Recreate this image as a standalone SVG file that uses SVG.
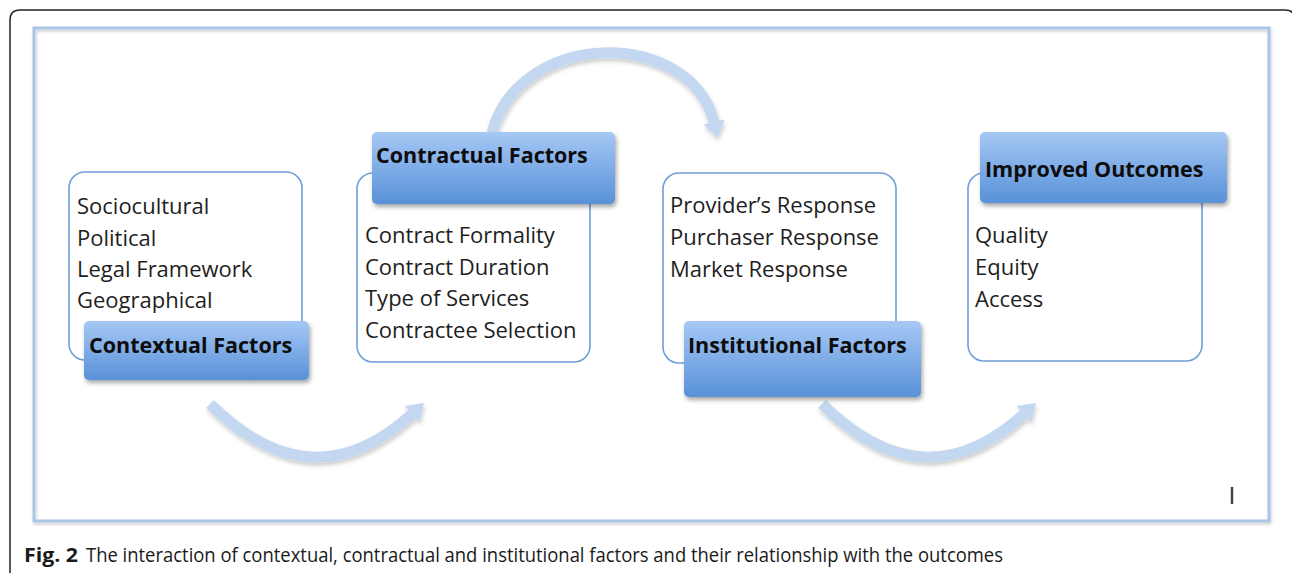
<svg xmlns="http://www.w3.org/2000/svg" width="1292" height="573" viewBox="0 0 1292 573">
<style>
.item{font-family:"Open Sans","DejaVu Sans",sans-serif;font-size:22px;fill:#1e1e1e}
.head{font-family:"Open Sans","DejaVu Sans",sans-serif;font-size:21.5px;font-weight:bold;fill:#0d0d0d}
.box{fill:#ffffff;stroke:#6f9fd6;stroke-width:1.6}
.hdr{fill:url(#hg);filter:url(#sh)}
.shaft{fill:none;stroke:#c4d7f1;stroke-width:11}
.head-tri{fill:#c4d7f1}
.cap{font-family:"Open Sans","Liberation Sans",sans-serif;font-size:20px;fill:#1a1a1a}
</style>
<defs>
<linearGradient id="hg" x1="0" y1="0" x2="0" y2="1">
<stop offset="0" stop-color="#a6c8f5"/>
<stop offset="1" stop-color="#5891d8"/>
</linearGradient>
<filter id="sh" x="-10%" y="-10%" width="125%" height="135%">
<feDropShadow dx="1.5" dy="3" stdDeviation="2" flood-color="#000" flood-opacity="0.35"/>
</filter>
<filter id="ash" x="-10%" y="-10%" width="125%" height="135%">
<feDropShadow dx="1" dy="3" stdDeviation="2" flood-color="#000" flood-opacity="0.2"/>
</filter>
<filter id="fsh" x="-2%" y="-2%" width="104%" height="106%">
<feDropShadow dx="1" dy="2" stdDeviation="1.5" flood-color="#000" flood-opacity="0.2"/>
</filter>
</defs>

<path d="M 10 573 V 20 Q 10 10 20 10 H 1285 Q 1295 10 1295 20 V 573" fill="none" stroke="#222" stroke-width="1.5"/>
<rect x="34" y="28" width="1235" height="493" fill="none" stroke="#a9c5e8" stroke-width="3" filter="url(#fsh)"/>

<g id="connectors">
<g filter="url(#ash)">
<path class="shaft" d="M 210 404 Q 312 505 412 414"/>
<polygon class="head-tri" points="424,403 419.4,422.1 404.6,405.9"/>
</g>
<g filter="url(#ash)">
<path class="shaft" d="M 492 133 C 520 28 690 28 714 122"/>
<polygon class="head-tri" points="717.7,137.6 724.7,119.5 703.3,124.5"/>
</g>
<g filter="url(#ash)">
<path class="shaft" d="M 822 404 Q 924 505 1024 414"/>
<polygon class="head-tri" points="1036,403 1031.4,422.1 1016.6,405.9"/>
</g>
</g>

<g id="contextual">
<rect class="box" x="69" y="172" width="233" height="188" rx="16"/>
<text class="item" x="77" y="214">Sociocultural</text>
<text class="item" x="77" y="246">Political</text>
<text class="item" x="77" y="277">Legal Framework</text>
<text class="item" x="77" y="308">Geographical</text>
<rect class="hdr" x="84" y="321" width="225" height="59" rx="5"/>
<text class="head" x="89" y="353">Contextual Factors</text>
</g>

<g id="contractual">
<rect class="box" x="357" y="173" width="233" height="189" rx="16"/>
<rect class="hdr" x="372" y="132" width="243" height="72" rx="5"/>
<text class="head" x="376" y="163">Contractual Factors</text>
<text class="item" x="365" y="243">Contract Formality</text>
<text class="item" x="365" y="275">Contract Duration</text>
<text class="item" x="365" y="306">Type of Services</text>
<text class="item" x="365" y="338">Contractee Selection</text>
</g>

<g id="institutional">
<rect class="box" x="663" y="173" width="233" height="190" rx="16"/>
<text class="item" x="670" y="213">Provider’s Response</text>
<text class="item" x="670" y="245">Purchaser Response</text>
<text class="item" x="670" y="277">Market Response</text>
<rect class="hdr" x="684" y="321" width="237" height="76" rx="5"/>
<text class="head" x="688" y="353">Institutional Factors</text>
</g>

<g id="outcomes">
<rect class="box" x="968" y="173" width="234" height="188" rx="16"/>
<rect class="hdr" x="980" y="132" width="247" height="71" rx="5"/>
<text class="head" x="985" y="177">Improved Outcomes</text>
<text class="item" x="975" y="243">Quality</text>
<text class="item" x="975" y="275">Equity</text>
<text class="item" x="975" y="307">Access</text>
</g>

<line x1="1232" y1="487" x2="1232" y2="504" stroke="#444" stroke-width="2.5"/>

<text class="cap" x="24" y="562" font-weight="bold" textLength="54" lengthAdjust="spacingAndGlyphs">Fig. 2</text>
<text class="cap" x="86" y="562" textLength="917" lengthAdjust="spacingAndGlyphs">The interaction of contextual, contractual and institutional factors and their relationship with the outcomes</text>
</svg>
